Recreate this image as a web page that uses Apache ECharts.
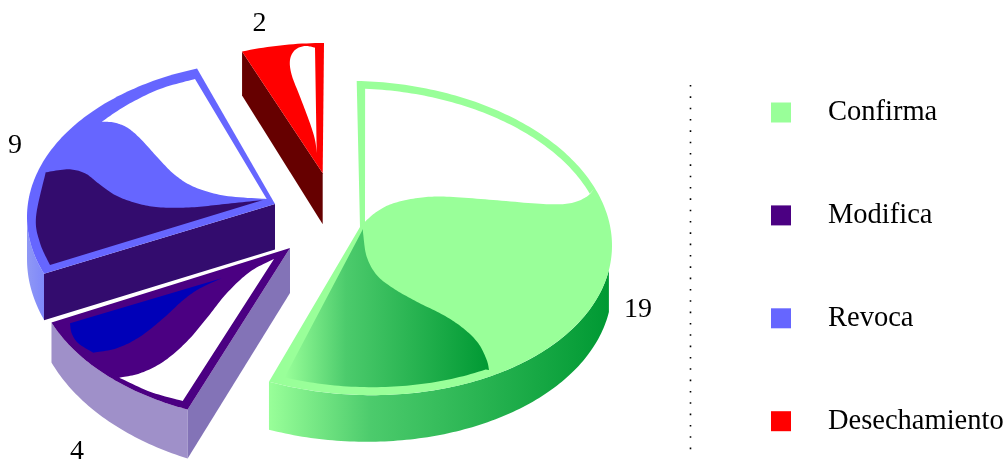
<!DOCTYPE html>
<html><head><meta charset="utf-8">
<style>html,body{margin:0;padding:0;background:#fff}#c{width:1006px;height:459px}</style>
<script src="https://cdn.jsdelivr.net/npm/echarts@6/dist/echarts.min.js"></script>
</head><body><div id="c"></div>
<script>
const categories = ['Confirma', 'Modifica', 'Revoca', 'Desechamiento'];
const counts = [19, 4, 9, 2];
const colors = ['#99ff99', '#4b0082', '#6666ff', '#ff0000'];
const FONT = '"Liberation Serif", serif';
const RX = 252, RY = 157;

const grad = (a, b) => new echarts.graphic.LinearGradient(0, 0, 1, 0, [{offset: 0, color: a}, {offset: 1, color: b}]);
const greenGrad = () => new echarts.graphic.LinearGradient(0, 0, 1, 0, [{offset: 0, color: '#99ff99'}, {offset: 0.3, color: '#4ccb6c'}, {offset: 1, color: '#009933'}]);

// drawing style of each exploded wedge; decoration runs are offsets from the wedge centre
const looks = [
  {centre: [360, 238], skew: 0.03, apex: [0, -11], nudge: [-0.75, 0], label: [278, 72],
   arcWall: {from: 99, to: null, depth: [42, 48], fill: greenGrad},
   decor: [
     {fill: () => '#ffffff', runs: [[[5,-16.3],[16.7,-26.3],[33.3,-34.7],[60,-40.3],[86.7,-41.3],[133.3,-38],[183.3,-34],[210,-34.7],[226.7,-41.3],[234.3,-49.7]], {arc: [70, 1.2, 7.5]}]},
     {fill: greenGrad, runs: [[[3,-9],[3.3,-3],[6.7,18.7],[16.7,37],[33.3,50.3],[56.7,63.7],[83.3,77],[103.3,90.3],[118.3,105.3],[126.7,122],[129,132]], {arc: [149, 198, 8]}]}
   ]},
  {centre: [286, 265], apex: [4, -17], nudge: [1.8, 5], label: [-209, 187],
   arcWall: {from: null, to: null, depth: [49, 40], fill: () => '#9f90c9'},
   edgeWall: {depth: [49, 45], fill: '#8373b7'},
   decor: [
     {fill: () => '#ffffff', runs: [[[-12,-6],[-36,6.7],[-59.3,28.3],[-79.3,53.3],[-99.3,76.7],[-122.7,96.7],[-146,108.3],[-166.7,112.7]], [[-166.7,112.7],[-136,126.7],[-103.3,136]]]},
     {fill: () => '#0000b8', runs: [[[-64.3,13.3],[-86,23.3],[-102.7,35],[-122.7,53.3],[-146,71.7],[-169.3,83.3],[-192.7,87.7]], [[-192.7,87.7],[-207.7,78.3],[-214.3,68.3],[-216,58.3]]]}
   ]},
  {centre: [279, 217], apex: [-4, -13], nudge: [5.3, 2.2], label: [-264, -71],
   arcWall: {from: null, to: 270, depth: [46, 42], fill: () => grad('#8f98f5', '#7f88fa')},
   edgeWall: {depth: [46.5, 45.5], fill: '#330c6e'},
   decor: [
     {fill: () => '#ffffff', runs: [[[-12.3,-18],[-54,-21.3],[-84,-29.7],[-104,-42],[-120.7,-58.7],[-137.3,-77],[-150.7,-88.7],[-164,-94.3],[-177.3,-95.3]], [[-177.3,-95.3],[-152,-112],[-119,-128],[-84,-138]]]},
     {fill: () => '#330c6e', runs: [[[-16,-17],[-54,-13],[-87.3,-9.7],[-120.7,-9.7],[-144,-14.3],[-164,-22],[-180.7,-33.7],[-194,-43.7],[-210.7,-47.7],[-233.3,-44.7]], [[-233.3,-44.7],[-243,0],[-239,26],[-229,48]]]}
   ]},
  {centre: [324, 200], apex: [-1.3, -26.7], nudge: [2.2, 0], label: [-64.5, -176],
   edgeWall: {depth: [44, 51], fill: '#660000'},
   decor: [
     {fill: () => '#ffffff', runs: [[[-9,-152.3],[-19,-154],[-29,-150],[-34,-140],[-32.3,-125],[-24,-103.3],[-14,-76.7],[-9,-60],[-7.3,-47]]]}
   ]}
];

const total = counts.reduce((a, b) => a + b, 0);

function onEllipse(look, deg, inset) {
  const c = look.centre, t = deg * Math.PI / 180;
  const dx = (RX - inset) * Math.sin(t);
  return [c[0] + dx, c[1] - (RY - inset) * Math.cos(t) + (look.skew || 0) * dx];
}
function arcPoints(look, a0, a1, inset) {
  const n = Math.max(2, Math.ceil(Math.abs(a1 - a0)));
  const pts = [];
  for (let i = 0; i <= n; i++) pts.push(onEllipse(look, a0 + (a1 - a0) * i / n, inset));
  return pts;
}
// Catmull-Rom through a run of points
function smooth(p) {
  if (p.length < 3) return p.slice();
  const out = [];
  for (let i = 0; i < p.length - 1; i++) {
    const p0 = p[Math.max(i - 1, 0)], p1 = p[i], p2 = p[i + 1], p3 = p[Math.min(i + 2, p.length - 1)];
    for (let s = 0; s < 12; s++) {
      const t = s / 12, t2 = t * t, t3 = t2 * t;
      out.push([0, 1].map(k => 0.5 * (2 * p1[k] + (p2[k] - p0[k]) * t + (2 * p0[k] - 5 * p1[k] + 4 * p2[k] - p3[k]) * t2 + (3 * p1[k] - p0[k] - 3 * p2[k] + p3[k]) * t3)));
    }
  }
  out.push(p[p.length - 1]);
  return out;
}

function makeSeries(name, idx) {
  return {
    name, type: 'custom', coordinateSystem: 'none', silent: true, animation: false,
    itemStyle: {color: colors[idx]},
    data: [[counts[idx]]],
    renderItem(params, api) {
      const value = api.value(0);
      const before = counts.slice(0, idx).reduce((a, b) => a + b, 0);
      const look = looks[idx];
      const c = look.centre;
      const start = before / total * 360 + look.nudge[0];
      const end = (before + value) / total * 360 + look.nudge[1];
      const apex = [c[0] + look.apex[0], c[1] + look.apex[1]];
      const kids = [];
      const poly = (points, fill) => kids.push({type: 'polygon', shape: {points}, style: {fill, stroke: null}});

      if (look.arcWall) {
        const w = look.arcWall;
        const a0 = w.from == null ? start : w.from, a1 = w.to == null ? end : w.to;
        const top = arcPoints(look, a0, a1, 0);
        const bottom = top.map((p, i) => [p[0], p[1] + w.depth[0] + (w.depth[1] - w.depth[0]) * i / (top.length - 1)]);
        poly(top.concat(bottom.reverse()), w.fill());
      }
      if (look.edgeWall) {
        const w = look.edgeWall, corner = onEllipse(look, start, 0);
        poly([corner, apex, [apex[0], apex[1] + w.depth[1]], [corner[0], corner[1] + w.depth[0]]], w.fill);
      }
      poly([apex].concat(arcPoints(look, start, end, 0)), colors[idx]);
      look.decor.forEach(d => {
        let pts = [];
        d.runs.forEach(r => {
          if (r.arc) pts = pts.concat(arcPoints(look, r.arc[0], r.arc[1], r.arc[2]));
          else pts = pts.concat(smooth(r.map(q => [c[0] + q[0], c[1] + q[1]])));
        });
        poly(pts, d.fill());
      });
      kids.push({type: 'text', x: c[0] + look.label[0], y: c[1] + look.label[1],
        style: {text: String(value), fontFamily: FONT, fontSize: 28, fill: '#000', align: 'center', verticalAlign: 'middle'}});
      return {type: 'group', children: kids};
    }
  };
}

const chart = echarts.init(document.getElementById('c'), null, {renderer: 'canvas'});
chart.setOption({
  animation: false,
  backgroundColor: '#fff',
  legend: {
    orient: 'vertical', left: 771, top: 98, padding: 0, itemGap: 73.9,
    itemWidth: 20, itemHeight: 20, icon: 'rect', selectedMode: false,
    data: categories,
    textStyle: {fontFamily: FONT, fontSize: 28.5, color: '#000', padding: [0, 0, 0, 32], height: 20, lineHeight: 20}
  },
  graphic: [{
    type: 'line', silent: true,
    shape: {x1: 690.5, y1: 85, x2: 690.5, y2: 452},
    style: {stroke: '#000', lineWidth: 1.6, lineDash: [1.6, 9.73]}
  }],
  series: categories.map(makeSeries)
});
</script></body></html>
